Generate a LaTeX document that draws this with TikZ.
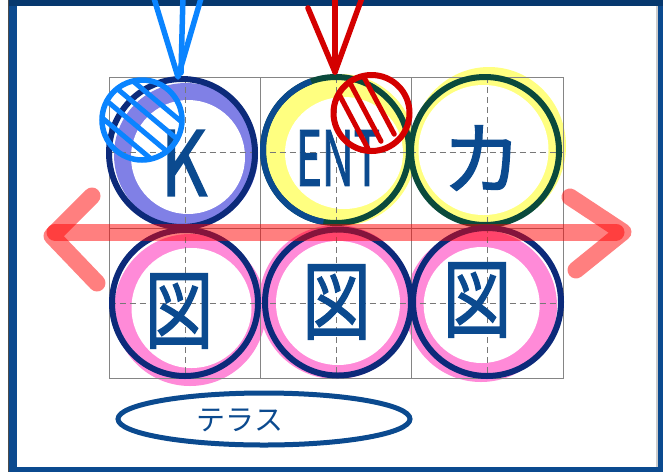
\documentclass[tikz,border=0pt]{standalone}
\usepackage{fontspec}
\newfontfamily\jp{Noto Sans CJK JP}
\newfontfamily\jpm{Noto Sans CJK JP}[FakeBold=1.6]
\definecolor{navy}{HTML}{0B4A8F}
\definecolor{framec}{HTML}{0B4A8F}
\definecolor{topc}{HTML}{06386E}
\definecolor{darknavy}{HTML}{0C2A7A}
\definecolor{lav}{HTML}{8080E6}
\definecolor{yel}{HTML}{FFFF80}
\definecolor{pinkb}{HTML}{FF8AD8}
\definecolor{dgreen}{HTML}{0A4A3C}
\definecolor{skyb}{HTML}{0A84FF}
\definecolor{redd}{HTML}{D40000}
\definecolor{gridc}{HTML}{858585}
\begin{document}
\begin{tikzpicture}[x=1pt,y=-1pt,
  outl/.style={line width=6pt},
  glyph/.style={inner sep=0pt, text=navy},
  gridl/.style={draw=gridc, line width=1pt},
  dashl/.style={draw=gridc!90!black, line width=1pt, dash pattern=on 6pt off 4pt},
  hatchl/.style={line width=5pt},
  penline/.style={line width=5.5pt, line cap=round, line join=round},
  band/.style={line width=17pt, line cap=round, line join=round, draw=red, draw opacity=0.5}]
\useasboundingbox (0,0) rectangle (663,472);
\fill[white] (0,0) rectangle (663,472);
% frame
\fill[framec] (9.3,0) rectangle (663,472);
\fill[white] (16.7,6) rectangle (656,467);
\fill[gray!40] (656,6) rectangle (658.3,467);
\fill[topc] (9.3,0) rectangle (663,6);
\draw[black!70, line width=0.8pt] (8.6,0) -- (8.6,472);
% halos and bands
\fill[lav] (186,155) circle[radius=72];
\fill[white] (188,157) circle[radius=57];
\fill[yel] (340,150) circle[radius=76];
\fill[white] (344,153) ellipse[x radius=59, y radius=56];
\fill[yel] (489,146) ellipse[x radius=77, y radius=79];
\fill[white] (483.5,150) circle[radius=65];
\fill[pinkb] (190,310) circle[radius=76];
\fill[white] (191.5,308) circle[radius=60];
\fill[pinkb] (336,302) circle[radius=77];
\fill[white] (338,303) circle[radius=62];
\fill[pinkb] (481,306) circle[radius=76];
\fill[white] (481.7,305) circle[radius=58];
% grid
\draw[gridl] (109.5,77) rectangle (563,378.5);
\draw[gridl] (260.5,77) -- (260.5,378.5);
\draw[gridl] (411.5,77) -- (411.5,378.5);
\draw[gridl] (109.5,228) -- (563,228);
\draw[dashl] (185,77) -- (185,378.5);
\draw[dashl] (336,77) -- (336,378.5);
\draw[dashl] (487,77) -- (487,378.5);
\draw[dashl] (109.5,152) -- (563,152);
\draw[dashl] (109.5,303) -- (563,303);
% outlines
\draw[outl, darknavy] (182,153) ellipse[x radius=73, y radius=74];
\draw[outl, dgreen] (336,150) circle[radius=73];
\draw[outl, navy] ([shift={(336,150)}]100:73) arc[start angle=100, end angle=250, radius=73];
\draw[outl, dgreen] (485,151) circle[radius=74];
\draw[outl, darknavy] (185,303) circle[radius=73];
\draw[outl, darknavy] (338,302.5) circle[radius=73];
\draw[outl, darknavy] (487,302) circle[radius=74];
% glyphs
\node[glyph, font=\jpm\fontsize{90}{90}\selectfont, xscale=0.8] (k) at (184,163) {K};
\node[glyph, font=\jpm\fontsize{76}{76}\selectfont, xscale=0.58] (ent) at (338,158) {ENT};
\node[glyph, font=\jpm\fontsize{80}{80}\selectfont] (ka) at (482,158) {カ};
\node[glyph, font=\jpm\fontsize{86}{86}\selectfont, xscale=0.8] (zu1) at (179,311) {図};
\node[glyph, font=\jpm\fontsize{86}{86}\selectfont, xscale=0.8] (zu2) at (336.5,302) {図};
\node[glyph, font=\jpm\fontsize{86}{86}\selectfont, xscale=0.8] (zu3) at (477,300) {図};
% terrace ellipse
\draw[navy, line width=5pt] (264,419) ellipse[x radius=146, y radius=26];
\node[glyph, font=\jp\fontsize{29}{29}\selectfont] (terrace) at (240,420) {テラス};
% blue hatched circle
\begin{scope}
  \clip (142,120) circle[radius=40];
  \foreach \d in {-24,-8,8,24}
    \draw[skyb, hatchl, shift={(142,120)}, rotate=-40] (-60,\d) -- (60,\d);
\end{scope}
\draw[skyb, line width=5.5pt] (142,120) circle[radius=40];
% red hatched circle
\begin{scope}
  \clip (371.5,113) circle[radius=38];
  \foreach \d in {15,0,-15}
    \draw[redd, hatchl, line cap=round, shift={(366,113)}, rotate=-62] (-32,\d) -- (32,\d);
\end{scope}
\draw[redd, line width=6pt] (371.5,113) circle[radius=38];
% blue arrow
\coordinate (bt1) at (153,-5);
\coordinate (bt2) at (183,-5);
\coordinate (bt3) at (202,-5);
\coordinate (btip) at (178,77);
\draw[skyb, penline] (bt1) -- (btip) -- (bt3);
\draw[skyb, penline] (bt2) -- (181,73);
% red arrow
\coordinate (rt1) at (308,8);
\coordinate (rt2) at (335,-5);
\coordinate (rt3) at (363,-5);
\coordinate (rtip) at (335,72);
\draw[redd, penline] (rt1) -- (rtip) -- (rt3);
\draw[redd, penline] (rt2) -- (rtip);
% red double arrow
\coordinate (hl) at (55,232);
\coordinate (hr) at (616,232);
\draw[band] (hl) -- (hr);
\draw[band] (92,196) -- (52,236) -- (97,283);
\draw[band] (570,197) -- (623,232) -- (576,270);
\end{tikzpicture}
\end{document}
